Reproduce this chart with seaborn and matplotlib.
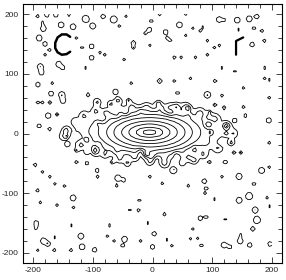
import numpy as np
import matplotlib
matplotlib.use("Agg")
import matplotlib.pyplot as plt
from matplotlib.ticker import MultipleLocator
import seaborn as sns

# galaxy: semi-axes of each contour level
gal_center = (-5, 2)
gal_levels = [1, 2, 3, 4, 5, 6, 7, 8, 9]
gal_semimajor = [125, 102, 86, 72, 60, 47, 35, 23, 12]
gal_semiminor = [46, 40, 35, 30, 25, 19, 14, 9, 4]

# noise blobs: centre x, centre y, approx contour radius
blob_x = [-193, -177, -185, -162, -140, -153, -183, -190, -180, -133, -112, -100, -83, -65, -45, -55,
          -127, -173, -118, -102, -118, -102, -88, -80, -47, -32, -32, -180, -188, -186, -157, -150,
          -113, -192, -168, -35, -22, -170, -152, -150, -172, -193, -185, -108, -93, -58, -70, -62,
          -40, -190, -175, -160, -190, -173, -145, -145,
          12, 55, -2, 22, 45, 67, 80, 85, 112, 122, 142, 162, 175, 170, 183, 145, -5, -12, 22, 25,
          30, 55, 92, 103, 112, 167, 187, -5, 37, 48, 72, 92, 117, 138, 188, 12, 37, 63, 105, 187,
          195, 42, 92, 117, 153, 195, 105, 10, 40, 60, 95, 120, 153, 195, 123, 123, 138, 155, 97,
          -143, -97, -127, -110, -67, -42, -197, -185, -127, -110, -118, -93, -92, -58, -48, -172,
          -163, -147, -60, -193, -188, -160, -133, -133, -22, -38, -23, -195, -195, -135, -72, -183,
          -175, -163, -120, -75, -47, -50, -65, -193, -165, -137, -118, -97, -20,
          132, 137, 148, 195, 0, 20, 35, -10, 70, 95, 122, 183, 195, -5, 17, 60, 87, 90, 117, 145,
          130, 170, 50, 88, 103, 145, 162, 192, 20, 80, 90, 122, 172, 175, 168, 197, -7, 67, 3, 25,
          63, 75, 82, 33, 120, 130, 147, 147, 163, 197, 0]
blob_y = [197, 199, 186, 199, 199, 182, 176, 160, 150, 179, 192, 180, 196, 191, 197, 180,
          160, 140, 144, 146, 130, 127, 135, 132, 124, 152, 144, 132, 112, 102, 116, 110,
          110, 82, 85, 85, 82, 67, 65, 55, 52, 52, 52, 65, 53, 55, 50, 70,
          55, 38, 30, 32, 13, 7, 5, -5,
          200, 200, 189, 186, 182, 177, 172, 178, 191, 190, 190, 192, 196, 177, 172, 174, 174, 168, 170, 160,
          155, 165, 155, 144, 147, 149, 155, 147, 127, 127, 127, 132, 110, 105, 110, 88, 88, 93, 88, 93,
          90, 68, 65, 63, 77, 60, 48, 50, 45, 42, 35, 43, 45, 22, 13, 0, 22, 30, 2,
          -18, -27, -28, -32, -48, -50, -53, -65, -48, -50, -62, -62, -73, -75, -78, -73,
          -85, -88, -87, -95, -115, -120, -108, -124, -112, -129, -129, -150, -158, -154, -154, -180,
          -185, -174, -172, -172, -177, -188, -180, -195, -195, -195, -190, -195, -180,
          -15, -32, -32, -15, -40, -50, -62, -35, -45, -48, -48, -62, -57, -73, -83, -87, -80, -92, -73, -72,
          -90, -85, -102, -100, -110, -112, -105, -107, -135, -142, -140, -143, -128, -145, -160, -122, -150, -160, -168, -178,
          -177, -175, -187, -188, -187, -190, -180, -170, -187, -185, -190]
blob_r = [3, 4, 2.5, 4, 3, 5, 5, 5, 4, 5, 6, 5, 4, 6, 2.5, 2.5,
          2.5, 3, 2.5, 4, 2.5, 4, 2.5, 2.5, 2.5, 4, 3, 2.5, 5, 4, 5, 3,
          2.5, 4, 2.5, 2.5, 2.5, 4, 5, 4, 3, 2.5, 2.5, 3, 5, 5, 4, 4,
          3, 2.5, 4, 2.5, 3, 2.5, 5, 3,
          3, 2.5, 3, 2.5, 5, 2.5, 2.5, 2.5, 5, 2.5, 5, 5, 4, 3, 3, 2.5, 4, 3, 4, 3,
          2.5, 2.5, 2.5, 2.5, 2.5, 4, 3, 2.5, 3, 2.5, 2.5, 2.5, 2.5, 2.5, 2.5, 4, 2.5, 2.5, 3, 2.5,
          2.5, 2.5, 5, 2.5, 2.5, 2.5, 2.5, 4, 5, 4, 2.5, 2.5, 2.5, 4, 4, 3, 2.5, 2.5, 2.5,
          3, 5, 2.5, 2.5, 2.5, 4, 3, 2.5, 2.5, 2.5, 2.5, 3, 2.5, 5, 3, 2.5,
          2.5, 2.5, 2.5, 3, 2.5, 2.5, 5, 2.5, 2.5, 2.5, 3, 4, 3, 2.5, 2.5, 5,
          4, 2.5, 5, 2.5, 5, 3, 2.5, 2.5, 3, 3, 5, 4, 2.5,
          4, 2.5, 2.5, 2.5, 6, 6, 5, 4, 5, 2.5, 3, 5, 2.5, 2.5, 2.5, 2.5, 4, 3, 2.5, 5,
          2.5, 3, 2.5, 2.5, 2.5, 5, 6, 2.5, 3, 4, 3, 2.5, 5, 6, 4, 2.5, 2.5, 2.5, 4, 2.5,
          2.5, 2.5, 3, 2.5, 5, 3, 5, 2.5, 4, 4, 4]

# bumps (+) and notches (-) along the outer galaxy contours
env_x = [-130, -115, -95, -78, -35, -10, 15, 30, 55, 80, 95, 105, 125, -120, -95, -80, -55, -30,
         -5, 50, 60, 85, 110, -150, 135, -85, 30, -20, 70, 95, -110, -45, 5, 115, -125, 40,
         -90, -60, -20, 20, 60, 90, -90, -60, -20, 20, 60, 90]
env_y = [20, 30, 38, 35, 45, 45, 42, 45, 45, 35, 28, 25, 12, -20, -32, -35, -42, -40,
         -48, -50, -40, -35, -25, -5, 0, 25, 35, -30, -25, 15, -10, 35, -42, -15, -5, -35,
         18, 30, 38, 38, 30, 15, -18, -30, -38, -40, -30, -15]
env_r = [4, 5, 5, 4, 4, 4, 4, 4, 5, 5, 4, 5, 5, 5, 4, 4, 5, 4,
         4, 4, 5, 5, 5, 5, 5, 5, 4, 4, 4, 4, 4, 4, 4, 4, 4, 4,
         4, 4, 4, 4, 4, 4, 4, 4, 4, 4, 4, 4]
env_amp = [1.3, 1.5, 1.5, 1.2, 1.5, 1.2, 1.2, 1.2, 1.5, 1.5, 1.2, 1.5, 1.5, 1.5, 1.2, 1.2, 1.5, 1.2,
           1.2, 1.2, 1.5, 1.5, 1.5, 1.2, 1.5,
           -1.2, -1.2, -1.2, -1.2, -1.2, -1.2, -1.2, -1.2, -1.2, -1.2, -1.2,
           0.9, -0.8, 0.9, -0.8, 0.9, -0.8, -0.8, 0.9, -0.8, 0.9, -0.8, 0.9]

# thick artefacts (bright features)
c_arc_x = [-138, -144, -152, -159, -163, -163, -159, -152, -144, -138]
c_arc_y = [162, 166, 166, 161, 152, 143, 136, 132, 133, 137]
gamma_x = [140, 140, 152]
gamma_y = [132, 155, 161]

contour_levels = [1, 2, 3, 4, 5, 6, 7, 8, 9]

sns.set_style("ticks", {"xtick.direction": "in", "ytick.direction": "in"})
plt.rcParams["font.family"] = ["Liberation Sans", "DejaVu Sans"]
plt.rcParams["axes.unicode_minus"] = False

grid = np.arange(-200, 201, 4.0)
X, Y = np.meshgrid(grid, grid)
DX = X - gal_center[0]
DY = Y - gal_center[1]

# galaxy field: level value interpolated between the read-off ellipses
rho = np.array([np.hypot(DX / a, DY / b) for a, b in zip(gal_semimajor, gal_semiminor)])
Z = gal_levels[0] / np.maximum(rho[0], 1e-6) ** 4
for k in range(len(gal_levels) - 1):
    inside = (rho[k] <= 1) & (rho[k + 1] > 1)
    frac = (1 - rho[k]) / (rho[k + 1] - rho[k])
    Z = np.where(inside, gal_levels[k] + frac, Z)
Z = np.where(rho[-1] <= 1, gal_levels[-1] + (1 - rho[-1]), Z)

amp = 2.0
for bx, by, br in zip(blob_x, blob_y, blob_r):
    s = br / np.sqrt(2 * np.log(amp))
    Z += amp * np.exp(-((X - bx) ** 2 + (Y - by) ** 2) / (2 * s ** 2))
for ex, ey, er, ea in zip(env_x, env_y, env_r, env_amp):
    Z += ea * np.exp(-((X - ex) ** 2 + (Y - ey) ** 2) / (2 * er ** 2))

fig = plt.figure(figsize=(2.86, 2.80), dpi=100)
ax = fig.add_axes([23 / 286, 17 / 280, 259 / 286, 259 / 280])
ax.contour(X, Y, Z, levels=contour_levels, colors="black", linewidths=0.6)
ax.plot(c_arc_x, c_arc_y, color="black", lw=1.8)
ax.plot(gamma_x, gamma_y, color="black", lw=1.6)

ax.set_xlim(-217, 217)
ax.set_ylim(-217, 217)
ax.xaxis.set_major_locator(MultipleLocator(100))
ax.yaxis.set_major_locator(MultipleLocator(100))
ax.xaxis.set_minor_locator(MultipleLocator(20))
ax.yaxis.set_minor_locator(MultipleLocator(20))
ax.tick_params(which="both", direction="in", top=True, right=True, width=0.6,
               labelsize=6, pad=3)
ax.tick_params(which="major", length=4)
ax.tick_params(which="minor", length=3)
for sp in ax.spines.values():
    sp.set_linewidth(0.8)
    sp.set_color("black")

fig.savefig("out.png", dpi=100)
